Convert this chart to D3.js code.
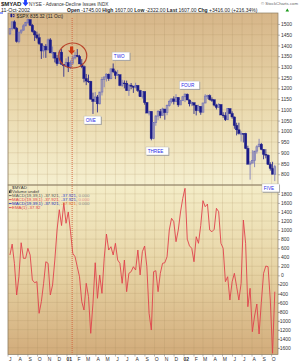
<!DOCTYPE html>
<html><head><meta charset="utf-8">
<script src="https://d3js.org/d3.v7.min.js"></script>
<style>
html,body{margin:0;padding:0;background:#fff}
svg{display:block}
text{font-family:"Liberation Sans",Arial,Helvetica,sans-serif}
</style></head><body>
<svg id="chart" width="300" height="364"></svg>
<script>
// ---------- DATA ----------
// weekly $SPX bars, one per Friday from 7 Jul 2000 to 11 Oct 2002
const spxOpen = [1454,1478,1510,1480,1419,1462,1471,1491,1507,1520,
1494,1465,1449,1436,1408,1374,1396,1379,1426,1365,
1367,1341,1315,1369,1312,1305,1320,1298,1318,1342,
1354,1349,1314,1301,1246,1234,1233,1150,1139,1160,
1128,1183,1242,1253,1266,1245,1291,1277,1260,1264,
1214,1225,1224,1190,1215,1210,1205,1214,1190,1161,
1185,1134,1085,1093,966,1041,1071,1092,1073,1104,
1087,1120,1139,1151,1139,1158,1123,1144,1161,1173,
1146,1128,1133,1122,1096,1116,1089,1132,1164,1166,
1148,1147,1122,1111,1125,1076,1073,1054,1106,1083,
1067,1027,1007,990,990,989,921,847,852,864,
908,928,940,916,893,889,846,827,800];
const spxHigh = [1480,1510,1517,1486,1462,1475,1499,1510,1525,1521,
1500,1471,1464,1455,1409,1400,1406,1432,1434,1395,
1367,1355,1380,1383,1314,1340,1348,1330,1354,1370,
1383,1356,1336,1307,1267,1264,1235,1180,1183,1169,
1183,1253,1255,1270,1269,1292,1316,1283,1286,1264,
1240,1237,1236,1219,1225,1212,1226,1214,1193,1186,
1185,1136,1096,1093,1041,1075,1099,1104,1110,1104,
1125,1148,1152,1163,1173,1159,1144,1165,1176,1176,
1148,1140,1135,1122,1124,1117,1132,1173,1170,1172,
1158,1147,1128,1131,1126,1089,1089,1106,1106,1093,
1068,1040,1040,1000,990,993,933,862,912,908,
935,965,946,916,917,892,856,858,844];
const spxLow = [1448,1470,1475,1413,1410,1453,1469,1490,1500,1490,
1460,1421,1429,1402,1337,1342,1342,1379,1365,1340,
1321,1305,1315,1312,1254,1300,1276,1290,1310,1335,
1345,1313,1294,1228,1215,1225,1148,1081,1137,1088,
1126,1167,1205,1232,1235,1243,1271,1243,1257,1210,
1206,1200,1189,1165,1196,1179,1200,1183,1160,1152,
1124,1085,1074,958,963,1026,1052,1061,1073,1054,
1075,1115,1130,1125,1136,1114,1123,1141,1136,1145,
1116,1117,1081,1074,1094,1077,1089,1131,1151,1144,
1137,1116,1102,1109,1076,1063,1048,1054,1080,1059,
1012,981,985,952,948,917,846,775,852,833,
896,927,912,870,874,843,817,800,768];
const spxClose = [1478,1510,1480,1419,1462,1471,1491,1507,1520,1494,
1465,1449,1436,1408,1374,1396,1379,1426,1365,1367,
1341,1315,1369,1312,1305,1320,1298,1318,1342,1354,
1349,1314,1301,1246,1234,1233,1150,1139,1160,1128,
1183,1242,1253,1266,1245,1291,1277,1260,1264,1214,
1225,1224,1190,1215,1210,1205,1214,1190,1161,1185,
1134,1085,1093,966,1041,1071,1092,1073,1104,1087,
1120,1139,1151,1139,1158,1123,1144,1161,1173,1146,
1128,1133,1122,1096,1116,1089,1132,1164,1166,1148,
1147,1122,1111,1125,1076,1073,1054,1106,1083,1067,
1027,1007,990,990,989,921,847,852,864,908,
928,940,916,893,889,846,827,800,835];
// weekly $MYAD (EMA(1)) values, same weeks
const myadValue = [449,690,265,-435,-30,720,376,376,597,449,
-104,-163,-141,-840,-583,-177,300,265,-435,-214,
338,1001,1450,1100,1600,1150,1400,963,486,411,
190,-31,-583,-767,-177,-472,-1282,-619,278,-508,
7,-398,376,913,559,632,449,707,338,265,
-177,338,-362,44,80,190,117,559,7,522,
647,190,-840,-1209,80,102,-362,44,265,278,
411,1001,1260,1185,743,1000,1400,1700,1923,800,
650,597,300,853,707,1100,1649,1516,1575,1001,
963,1017,1481,1405,707,597,-141,-31,-546,-141,
44,-252,-546,-177,1222,707,-694,-287,-1246,-900,
-634,-1297,-600,44,205,190,-546,-1724,-362];
const priceTicks = [800,850,900,950,1000,1050,1100,1150,1200,1250,1300,1350,1400,1450,1500];
const oscTicks = [-1600,-1400,-1200,-1000,-800,-600,-400,-200,0,200,400,600,800,1000,1200,1400,1600,1800];
const monthLabels = ["J","A","S","O","N","D","01","F","M","A","M","J","J","A","S","O","N","D","02","F","M","A","M","J","J","A","S","O"];
const waveLabels = ["ONE","TWO","THREE","FOUR","FIVE"];
const waveWeek  = [33, 45.5, 60.6, 75.5, 112.3];
const wavePrice = [1071, 1369, 927, 1234, 755];

// ---------- LAYOUT ----------
const svg = d3.select("#chart");
const PL=8, PR=278, T1=13, B1=185, T2=185, B2=354.5;
const weekDates = d3.timeFriday.range(new Date(2000,6,7), new Date(2002,9,12));
const x = d3.scaleTime().domain([new Date(2000,6,1), new Date(2002,9,21)]).range([PL,PR]);
const xw = d3.scaleLinear().domain([0, weekDates.length-1]).range([x(weekDates[0]), x(weekDates[weekDates.length-1])]);
const yP = d3.scaleLinear().domain([750,1551]).range([B1,T1]);
const yO = d3.scaleLinear().domain([-1750,1996]).range([B2,T2]);

const defs = svg.append("defs");
function grad(id, stops){
  const g=defs.append("linearGradient").attr("id",id).attr("x1",0).attr("y1",0).attr("x2",0).attr("y2",1);
  stops.forEach(([o,c])=>g.append("stop").attr("offset",o).attr("stop-color",c));
}
grad("gUp", [[0,"#d6b588"],[0.5,"#e9d7ab"],[1,"#f5efcf"]]);
grad("gLo", [[0,"#f4edc8"],[0.5,"#e7d4a5"],[1,"#d2ac7b"]]);
defs.append("clipPath").attr("id","cUp").append("rect").attr("x",PL).attr("y",T1).attr("width",PR-PL).attr("height",B1-T1);
defs.append("clipPath").attr("id","cLo").append("rect").attr("x",PL).attr("y",T2).attr("width",PR-PL).attr("height",B2-T2);

svg.append("rect").attr("x",PL).attr("y",T1).attr("width",PR-PL).attr("height",B1-T1).attr("fill","url(#gUp)");
svg.append("rect").attr("x",PL).attr("y",T2).attr("width",PR-PL).attr("height",B2-T2).attr("fill","url(#gLo)");

// grid
const months = d3.timeMonth.range(new Date(2000,6,1), new Date(2002,9,2));
const grid = svg.append("g").attr("stroke","#a88a5c").attr("stroke-opacity",0.32).attr("stroke-width",0.6);
grid.selectAll("line.v").data(months).join("line").attr("class","v")
  .attr("x1",d=>x(d)).attr("x2",d=>x(d)).attr("y1",T1).attr("y2",B2);
grid.selectAll("line.hp").data(priceTicks).join("line").attr("class","hp")
  .attr("x1",PL).attr("x2",PR).attr("y1",d=>yP(d)).attr("y2",d=>yP(d));
grid.selectAll("line.ho").data(oscTicks).join("line").attr("class","ho")
  .attr("x1",PL).attr("x2",PR).attr("y1",d=>yO(d)).attr("y2",d=>yO(d));

// candles
const bars = weekDates.map((d,i)=>({d,o:spxOpen[i],h:spxHigh[i],l:spxLow[i],c:spxClose[i]}));
const DN="#1b1b88", UP="#7373b8";
const cg = svg.append("g").attr("clip-path","url(#cUp)");
cg.selectAll("line.wick").data(bars).join("line").attr("class","wick")
  .attr("x1",d=>x(d.d)).attr("x2",d=>x(d.d)).attr("y1",d=>yP(d.h)).attr("y2",d=>yP(d.l))
  .attr("stroke",d=>d.c<d.o?DN:UP).attr("stroke-width",0.8);
cg.selectAll("rect.body").data(bars).join("rect").attr("class","body")
  .attr("x",d=>x(d.d)-(d.c<d.o?1.2:0.9)).attr("width",d=>d.c<d.o?2.4:1.8)
  .attr("y",d=>yP(Math.max(d.o,d.c))).attr("height",d=>Math.max(0.8,Math.abs(yP(d.o)-yP(d.c))))
  .attr("fill",d=>d.c<d.o?DN:"none").attr("stroke",d=>d.c<d.o?DN:UP).attr("stroke-width",d=>d.c<d.o?0.4:0.7);

// MYAD line
const pts = weekDates.map((d,i)=>({d,v:myadValue[i]}));
svg.append("path").datum(pts).attr("clip-path","url(#cLo)").attr("fill","none")
  .attr("stroke","#e0424c").attr("stroke-width",0.9).attr("stroke-linejoin","round")
  .attr("d",d3.line().x(d=>x(d.d)).y(d=>yO(d.v)));

// panel borders
svg.append("rect").attr("x",PL).attr("y",T1).attr("width",PR-PL).attr("height",B1-T1).attr("fill","none").attr("stroke","#8c7c62").attr("stroke-width",0.7);
svg.append("rect").attr("x",PL).attr("y",T2).attr("width",PR-PL).attr("height",B2-T2).attr("fill","none").attr("stroke","#8c7c62").attr("stroke-width",0.7);

// right axes
function styleAxis(g){
  g.attr("font-size",5).attr("font-family","Liberation Sans, Arial, sans-serif");
  g.select(".domain").remove();
  g.selectAll("line").attr("stroke","#777").attr("stroke-width",0.5);
  g.selectAll("text").attr("fill","#333");
}
svg.append("g").attr("transform",`translate(${PR},0)`)
  .call(d3.axisRight(yP).tickValues(priceTicks).tickSize(2).tickPadding(1).tickFormat(d3.format("d")))
  .call(styleAxis);
const axO = svg.append("g").attr("transform",`translate(${PR},0)`)
  .call(d3.axisRight(yO).tickValues(oscTicks).tickSize(2).tickPadding(1).tickFormat(d=>String(d)))
  .call(styleAxis);
axO.selectAll(".tick text").attr("x",d=>d<0?0:3);

// bottom month axis
const bx = svg.append("g");
bx.selectAll("line").data(months).join("line").attr("x1",d=>x(d)).attr("x2",d=>x(d)).attr("y1",B2).attr("y2",B2+2).attr("stroke","#777").attr("stroke-width",0.5);
bx.selectAll("text").data(months).join("text").attr("x",d=>x(d)+2.2).attr("y",361)
  .attr("text-anchor","middle").attr("font-size",5).attr("fill","#333")
  .attr("font-weight",(d,i)=>monthLabels[i].length>1?"bold":null).text((d,i)=>monthLabels[i]);

// dotted marker line, circle and arrows
const markDate = new Date(2001,0,17);
svg.append("line").attr("x1",x(markDate)).attr("x2",x(markDate)).attr("y1",18).attr("y2",B2)
  .attr("stroke","#d2603c").attr("stroke-width",0.9).attr("stroke-dasharray","1,1");
svg.append("ellipse").attr("cx",x(new Date(2001,0,19))).attr("cy",yP(1353)).attr("rx",14).attr("ry",12.5)
  .attr("fill","none").attr("stroke","#b8442a").attr("stroke-width",1.2);
const ax = x(markDate)-0.5, ay = yP(1395);
svg.append("path").attr("d",`M${ax-1.6},${ay} h3.2 v4 h2 l-3.6,4 l-3.6,-4 h2 z`).attr("fill","#cc3a12");
const bxA = 25.5;
svg.append("path").attr("d",`M${bxA-1.4},0 h2.8 v2.6 h1.8 l-3.2,3.6 l-3.2,-3.6 h1.8 z`).attr("fill","#1f3fff");
svg.append("line").attr("x1",0).attr("x2",3).attr("y1",13).attr("y2",13).attr("stroke","#1f3fff").attr("stroke-width",1);

// wave labels
const wl = svg.append("g");
waveLabels.forEach((t,i)=>{
  const bx0 = xw(waveWeek[i]), by0 = yP(wavePrice[i]);
  const g = wl.append("g");
  const txt = g.append("text").attr("x",bx0+1.8).attr("y",by0+6).attr("font-size",4.6).attr("fill","#2a2ae6").text(t);
  const w = txt.node().getComputedTextLength()+7;
  g.insert("rect","text").attr("x",bx0+0.8).attr("y",by0+0.8).attr("width",w).attr("height",8).attr("fill","#9a9a9a");
  g.insert("rect","text").attr("x",bx0).attr("y",by0).attr("width",w).attr("height",8).attr("fill","#fff").attr("stroke","#b0b0b0").attr("stroke-width",0.4);
});

// header
const h1 = svg.append("text").attr("x",1).attr("y",5.6).attr("fill","#222");
h1.append("tspan").attr("font-size",6).attr("font-weight","bold").text("$MYAD");
svg.append("text").attr("x",29).attr("y",5.6).attr("font-size",4.7).attr("fill","#333").text("NYSE - Advance-Decline Issues INDX");
svg.append("text").attr("x",298).attr("y",5).attr("font-size",4.3).attr("fill","#666").attr("text-anchor","end").text("© StockCharts.com");
svg.append("text").attr("x",1).attr("y",12).attr("font-size",5.3).attr("fill","#222").text("11-Oct-2002");
const h2 = svg.append("text").attr("x",67).attr("y",12).attr("font-size",5).attr("fill","#222");
[["Open","-1745.00"],["High","1607.00"],["Low","-2322.00"],["Last","1607.00"],["Chg","+3416.00 (+216.34%)"]].forEach(([k,v],i)=>{
  h2.append("tspan").attr("font-weight","bold").text((i?" ":"")+k+" ");
  h2.append("tspan").text(v);
});
svg.append("path").attr("d","M285.5,11.6 l1.8,-3 l1.8,3 z").attr("fill","#1a9a1a");

// upper legend
svg.append("rect").attr("x",10.5).attr("y",14).attr("width",1.6).attr("height",3).attr("fill","#1b1b88");
svg.append("line").attr("x1",11.3).attr("x2",11.3).attr("y1",13.3).attr("y2",17.8).attr("stroke","#1b1b88").attr("stroke-width",0.5);
svg.append("rect").attr("x",13).attr("y",14.6).attr("width",1.4).attr("height",2.4).attr("fill","none").attr("stroke","#1b1b88").attr("stroke-width",0.4);
svg.append("text").attr("x",16.5).attr("y",17.6).attr("font-size",4.8).attr("fill","#222").text("$SPX 835.32 (11 Oct)");

// lower legend
const lg = svg.append("g").attr("font-size",4.4);
lg.append("text").attr("x",12).attr("y",189).attr("fill","#333").text("$MYAD");
lg.append("rect").attr("x",9).attr("y",190.5).attr("width",1).attr("height",2.5).attr("fill","#333");
lg.append("rect").attr("x",10.4).attr("y",189.5).attr("width",1).attr("height",3.5).attr("fill","#333");
lg.append("text").attr("x",12).attr("y",193).attr("fill","#333").text("Volume undef");
const rows = [
  {y:197, c:"#555", parts:[["MACD(19,39,1) -37.921,","#555"],[" -37.921,","#3344cc"],[" 0.000","#888"]]},
  {y:201, c:"#e0424c", parts:[["MACD(19,39,1) -37.921,","#e0424c"],[" -37.921,","#3344cc"],[" 0.000","#e08a8a"]]},
  {y:205, c:"#2233bb", parts:[["MACD(19,39,1) -37.921,","#2233bb"],[" -37.921,","#e07030"],[" 0.000","#888"]]},
  {y:209, c:"#e0424c", parts:[["EMA(1) -37.92","#e0424c"]]}
];
rows.forEach(r=>{
  lg.append("line").attr("x1",8.8).attr("x2",11.6).attr("y1",r.y-1.4).attr("y2",r.y-1.4).attr("stroke",r.c).attr("stroke-width",0.9);
  const t = lg.append("text").attr("x",12).attr("y",r.y);
  r.parts.forEach(([s,c])=>t.append("tspan").attr("fill",c).text(s));
});
</script>
</body></html>
